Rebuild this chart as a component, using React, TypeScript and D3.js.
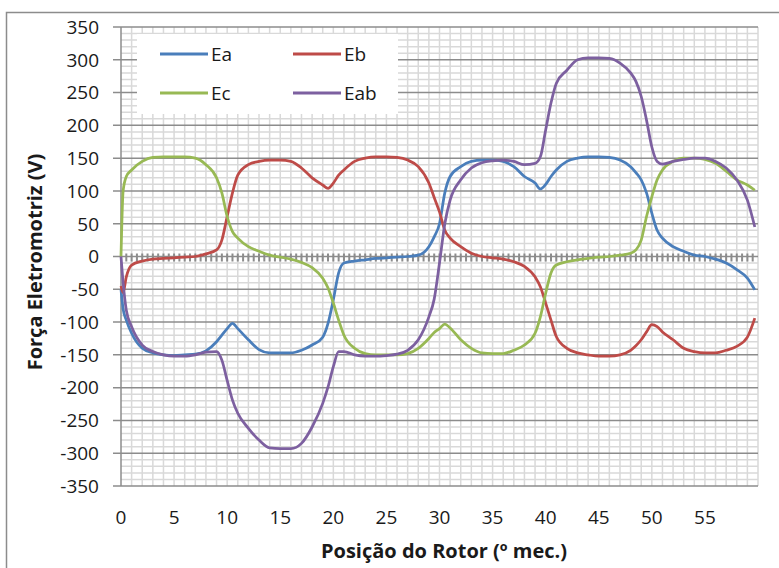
import React, { useEffect, useRef } from "react";
import * as d3 from "d3";

// rotor position (degrees mechanical)
const positions = [0, 0.2, 0.5, 1, 2, 3, 4, 5, 6, 7, 8, 9, 9.5, 10, 10.5, 11, 12, 13, 14, 15, 16, 17, 18, 19, 19.5, 20, 20.5, 21, 22, 23, 24, 25, 26, 27, 28, 29, 29.5, 30, 30.5, 31, 32, 33, 34, 35, 36, 37, 38, 39, 39.5, 40, 40.5, 41, 42, 43, 44, 45, 46, 47, 48, 48.5, 49, 49.5, 50, 50.5, 51, 52, 53, 54, 55, 56, 57, 58, 59, 59.7];

const ea = [-50, -80, -97, -117, -140, -147, -150, -151, -150, -149, -144, -130, -120, -110, -102, -110, -127, -142, -147, -147, -147, -143, -135, -123, -102, -66, -25, -10, -7, -5, -3, -2, -1, 0, 2, 15, 30, 50, 97, 122, 137, 145, 147, 147, 145, 137, 122, 112, 103, 110, 122, 132, 145, 150, 152, 152, 151, 147, 137, 128, 117, 97, 66, 40, 28, 15, 8, 2, 0, -4, -10, -20, -33, -51];

const eb = [-45, -55, -31, -13, -7, -4, -3, -2, -1, 0, 4, 10, 25, 61, 97, 124, 140, 145, 147, 147, 145, 135, 120, 109, 104, 112, 124, 132, 145, 150, 152, 152, 151, 147, 137, 112, 90, 68, 40, 28, 15, 5, 0, -2, -4, -8, -15, -31, -46, -71, -97, -122, -140, -147, -150, -152, -152, -150, -143, -136, -127, -115, -104, -107, -115, -127, -140, -145, -147, -147, -143, -137, -123, -94];

const ec = [0, 100, 122, 132, 145, 151, 152, 152, 152, 150, 140, 120, 97, 61, 38, 28, 15, 8, 2, -1, -4, -9, -17, -33, -48, -71, -97, -120, -140, -148, -150, -150, -150, -148, -140, -125, -116, -110, -103, -109, -127, -140, -147, -148, -148, -143, -135, -117, -92, -56, -25, -13, -8, -5, -3, -1, 0, 2, 5, 10, 25, 61, 91, 117, 132, 145, 150, 150, 148, 142, 130, 117, 109, 101];

const eab = [0, -40, -82, -107, -135, -145, -150, -152, -152, -150, -146, -145, -158, -189, -219, -239, -262, -280, -292, -293, -293, -285, -260, -224, -199, -168, -145, -145, -150, -152, -152, -151, -149, -143, -127, -92, -65, -10, 50, 86, 117, 135, 143, 146, 147, 145, 140, 142, 152, 193, 234, 264, 284, 300, 303, 303, 302, 295, 280, 267, 244, 208, 167, 145, 141, 145, 148, 150, 150, 145, 135, 117, 86, 45];

const seriesNames = ["Ea", "Eb", "Ec", "Eab"];
const seriesValues = [ea, eb, ec, eab];
const seriesColors = ["#4a7ebb", "#be4b48", "#98b954", "#7d60a0"];

const xTicks = [0, 5, 10, 15, 20, 25, 30, 35, 40, 45, 50, 55];
const yTicks = [-350, -300, -250, -200, -150, -100, -50, 0, 50, 100, 150, 200, 250, 300, 350];

const FONT = "'Open Sans', 'Liberation Sans', sans-serif";

export default function App() {
  const ref = useRef<SVGSVGElement>(null);

  useEffect(() => {
    const svg = d3.select(ref.current);
    svg.selectAll("*").remove();

    const left = 121, right = 758, top = 27, bottom = 486;
    const x = d3.scaleLinear().domain([0, 60]).range([left, right]);
    const y = d3.scaleLinear().domain([-350, 350]).range([bottom, top]);

    // chart border
    svg.append("rect")
      .attr("x", 6.5).attr("y", 12.5)
      .attr("width", 800).attr("height", 600)
      .attr("fill", "white")
      .attr("stroke", "#8c8c8c").attr("stroke-width", 1.5);

    const g = svg.append("g");

    // minor gridlines
    g.append("g").selectAll("line")
      .data(d3.range(1, 61))
      .join("line")
      .attr("x1", d => x(d)).attr("x2", d => x(d))
      .attr("y1", top).attr("y2", bottom)
      .attr("stroke", "#d9d9d9").attr("stroke-width", 1.5);

    g.append("g").selectAll("line")
      .data(d3.range(-340, 350, 10).filter(v => v % 50 !== 0))
      .join("line")
      .attr("x1", left).attr("x2", right)
      .attr("y1", d => y(d)).attr("y2", d => y(d))
      .attr("stroke", "#d9d9d9").attr("stroke-width", 1.5);

    // major gridlines
    g.append("g").selectAll("line")
      .data(yTicks)
      .join("line")
      .attr("x1", left - 8).attr("x2", right)
      .attr("y1", d => y(d)).attr("y2", d => y(d))
      .attr("stroke", "#8c8c8c").attr("stroke-width", 1.5);

    // left axis
    g.append("line")
      .attr("x1", left).attr("x2", left)
      .attr("y1", top).attr("y2", bottom)
      .attr("stroke", "#8c8c8c").attr("stroke-width", 1.5);

    // zero axis tick marks
    g.append("g").selectAll("line")
      .data(d3.range(0.5, 60, 0.5))
      .join("line")
      .attr("x1", d => x(d)).attr("x2", d => x(d))
      .attr("y1", y(0) - 3).attr("y2", y(0) + 5)
      .attr("stroke", "#8c8c8c").attr("stroke-width", 2);

    // y tick labels
    g.append("g").selectAll("text")
      .data(yTicks)
      .join("text")
      .attr("x", 99).attr("y", d => y(d))
      .attr("dy", "0.36em")
      .attr("text-anchor", "end")
      .attr("font-family", FONT).attr("font-size", 19)
      .attr("fill", "#1a1a1a")
      .text(d => d);

    // x tick labels
    g.append("g").selectAll("text")
      .data(xTicks)
      .join("text")
      .attr("x", d => x(d)).attr("y", 524)
      .attr("text-anchor", "middle")
      .attr("font-family", FONT).attr("font-size", 19)
      .attr("fill", "#1a1a1a")
      .text(d => d);

    // axis titles
    svg.append("text")
      .attr("x", 444).attr("y", 558)
      .attr("text-anchor", "middle")
      .attr("font-family", FONT).attr("font-size", 20).attr("font-weight", "bold")
      .attr("fill", "#1a1a1a")
      .text("Posição do Rotor (º mec.)");

    svg.append("text")
      .attr("transform", "translate(42,262) rotate(-90)")
      .attr("text-anchor", "middle")
      .attr("font-family", FONT).attr("font-size", 20).attr("font-weight", "bold")
      .attr("fill", "#1a1a1a")
      .text("Força Eletromotriz (V)");

    // legend box
    const lg = svg.append("g");
    lg.append("rect")
      .attr("x", 137).attr("y", 34)
      .attr("width", 261).attr("height", 80)
      .attr("fill", "white");

    const legendPos = [
      [160, 54], [293, 54], [160, 93], [293, 93]
    ];
    seriesNames.forEach((name, i) => {
      const [lx, ly] = legendPos[i];
      lg.append("line")
        .attr("x1", lx).attr("x2", lx + 48)
        .attr("y1", ly).attr("y2", ly)
        .attr("stroke", seriesColors[i]).attr("stroke-width", 3);
      lg.append("text")
        .attr("x", lx + 51).attr("y", ly)
        .attr("dy", "0.36em")
        .attr("font-family", FONT).attr("font-size", 19)
        .attr("fill", "#1a1a1a")
        .text(name);
    });

    // series lines
    const line = d3.line<number>()
      .x((_, i) => x(positions[i]))
      .y(d => y(d))
      .curve(d3.curveMonotoneX);

    g.append("g").selectAll("path")
      .data(seriesValues)
      .join("path")
      .attr("d", d => line(d))
      .attr("fill", "none")
      .attr("stroke", (_, i) => seriesColors[i])
      .attr("stroke-width", 2.75)
      .attr("stroke-linejoin", "round");
  }, []);

  return (
    <div style={{ position: "absolute", left: 0, top: 0 }}>
      <svg ref={ref} width={779} height={568} style={{ display: "block" }} />
    </div>
  );
}
